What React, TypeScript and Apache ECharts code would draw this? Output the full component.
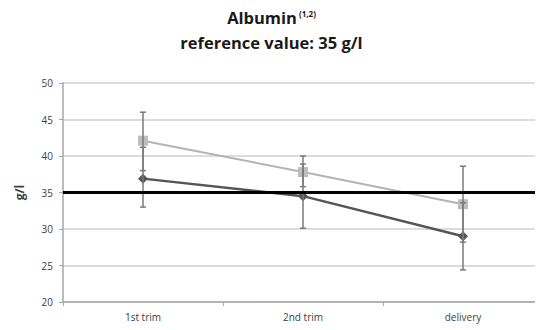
import React, { useEffect, useRef } from "react";
import * as echarts from "echarts";

const categories = ["1st trim", "2nd trim", "delivery"];
const lightValues = [42.1, 37.8, 33.4];
const lightLow = [38.0, 35.8, 28.2];
const lightHigh = [46.0, 40.0, 38.6];
const darkValues = [36.9, 34.5, 29.0];
const darkLow = [33.0, 30.1, 24.4];
const darkHigh = [41.2, 38.9, 33.6];
const referenceValue = 35;
const yTicks = [20, 25, 30, 35, 40, 45, 50];

export default function App() {
  const ref = useRef<HTMLDivElement>(null);
  useEffect(() => {
    if (!ref.current) return;
    const chart = echarts.init(ref.current, null, { renderer: "svg" });
    const errData: number[][] = [];
    categories.forEach((_, i) => {
      errData.push([i, lightLow[i], lightHigh[i]]);
      errData.push([i, darkLow[i], darkHigh[i]]);
    });
    const renderErr = (params: any, api: any) => {
      const lo = api.coord([api.value(0), api.value(1)]);
      const hi = api.coord([api.value(0), api.value(2)]);
      const w = 3;
      const style = { stroke: "#7a7a7a", lineWidth: 1.5 };
      return {
        type: "group",
        children: [
          { type: "line", shape: { x1: lo[0], y1: lo[1], x2: hi[0], y2: hi[1] }, style },
          { type: "line", shape: { x1: lo[0] - w, y1: lo[1], x2: lo[0] + w, y2: lo[1] }, style },
          { type: "line", shape: { x1: hi[0] - w, y1: hi[1], x2: hi[0] + w, y2: hi[1] }, style },
        ],
      };
    };
    chart.setOption({
      animation: false,
      backgroundColor: "#ffffff",
      title: {
        text: "{a|Albumin}{s| (1,2)}\n{a|reference value: 35 g/l}",
        left: "center",
        top: 0,
        textStyle: {
          rich: {
            a: { fontFamily: "Open Sans", fontWeight: "bold", fontSize: 16.5, color: "#1a1a1a", lineHeight: 25 },
            s: { fontFamily: "Open Sans", fontWeight: "bold", fontSize: 8, color: "#1a1a1a", lineHeight: 25, padding: [0, 0, 8, 0] },
          },
        },
      },
      grid: { left: 63, right: -4, top: 83, bottom: 28 },
      xAxis: {
        type: "category",
        data: categories,
        boundaryGap: true,
        axisLine: { show: true, lineStyle: { color: "#a6a6a6", width: 1.5 } },
        axisTick: { show: true, length: 4, lineStyle: { color: "#a6a6a6" } },
        axisLabel: { color: "#404040", fontSize: 10, fontFamily: "Open Sans", margin: 10 },
      },
      yAxis: {
        type: "value",
        min: 20,
        max: 50,
        interval: 5,
        name: "g/l",
        nameLocation: "middle",
        nameRotate: 90,
        nameGap: 38,
        nameTextStyle: { color: "#404040", fontSize: 12, fontWeight: "bold", fontFamily: "Open Sans" },
        axisLine: { show: true, lineStyle: { color: "#a6a6a6", width: 1.5 } },
        axisTick: { show: true, length: 4, lineStyle: { color: "#a6a6a6" } },
        axisLabel: {
          color: "#404040",
          fontSize: 10,
          fontFamily: "Open Sans",
          margin: 10,
          formatter: (v: number) => (yTicks.includes(v) ? String(v) : ""),
        },
        splitLine: { show: true, lineStyle: { color: "#d0d0d0", width: 1.5 } },
      },
      series: [
        {
          type: "line",
          data: lightValues,
          symbol: "rect",
          symbolSize: 10,
          lineStyle: { color: "#b3b3b3", width: 2 },
          itemStyle: { color: "#bdbdbd" },
          z: 3,
        },
        {
          type: "line",
          data: darkValues,
          symbol: "diamond",
          symbolSize: 10,
          lineStyle: { color: "#555555", width: 2.5 },
          itemStyle: { color: "#555555" },
          z: 3,
        },
        {
          type: "custom",
          renderItem: renderErr,
          data: errData,
          encode: { x: 0, y: [1, 2] },
          z: 4,
        },
        {
          type: "line",
          data: [],
          z: 5,
          markLine: {
            silent: true,
            symbol: "none",
            label: { show: false },
            lineStyle: { color: "#000000", width: 3, type: "solid" },
            data: [{ yAxis: referenceValue }],
          },
        },
      ],
    });
    return () => chart.dispose();
  }, []);
  return <div ref={ref} style={{ width: 543, height: 330, marginLeft: -8, marginTop: -8 }} />;
}
